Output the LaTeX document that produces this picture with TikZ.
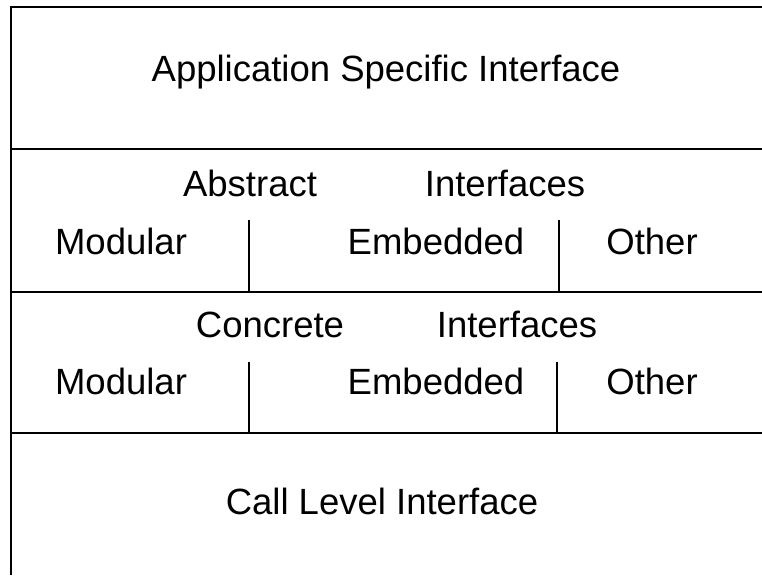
\documentclass[tikz,border=0pt]{standalone}
\usepackage{fontspec}
\setmainfont{Liberation Sans}
\begin{document}
\begin{tikzpicture}[x=1pt,y=-1pt,
  rule/.style={line width=2pt,black},
  divider/.style={line width=1.6pt,black},
  lbl/.style={anchor=base,inner sep=0pt,font=\fontsize{36.5}{40}\selectfont}]
\useasboundingbox (0,0) rectangle (762,575);
% frame
\coordinate (tl) at (11,7);
\coordinate (tr) at (762,7);
\coordinate (bl) at (11,575);
\coordinate (h1l) at (11,149); \coordinate (h1r) at (762,149);
\coordinate (h2l) at (11,292); \coordinate (h2r) at (762,292);
\coordinate (h3l) at (11,433); \coordinate (h3r) at (762,433);
\draw[rule] (tr) -- (tl) -- (bl);
\draw[rule] (h1l) -- (h1r);
\draw[rule] (h2l) -- (h2r);
\draw[rule] (h3l) -- (h3r);
% dividers
\coordinate (a1t) at (249,220); \coordinate (a1b) at (249,292);
\coordinate (a2t) at (559,220); \coordinate (a2b) at (559,292);
\coordinate (c1t) at (249,362); \coordinate (c1b) at (249,433);
\coordinate (c2t) at (557,362); \coordinate (c2b) at (557,433);
\draw[divider] (a1t) -- (a1b);
\draw[divider] (a2t) -- (a2b);
\draw[divider] (c1t) -- (c1b);
\draw[divider] (c2t) -- (c2b);
% texts
\node[lbl] (app) at (386,82) {Application Specific Interface};
\node[lbl] (abs) at (250,196) {Abstract};
\node[lbl] (absi) at (505,196) {Interfaces};
\node[lbl] (mod1) at (121,254) {Modular};
\node[lbl] (emb1) at (436,254) {Embedded};
\node[lbl] (oth1) at (652,254) {Other};
\node[lbl] (con) at (270,337) {Concrete};
\node[lbl] (coni) at (517,337) {Interfaces};
\node[lbl] (mod2) at (121,394) {Modular};
\node[lbl] (emb2) at (436,394) {Embedded};
\node[lbl] (oth2) at (652,394) {Other};
\node[lbl] (cli) at (382,514) {Call Level Interface};
\end{tikzpicture}
\end{document}
